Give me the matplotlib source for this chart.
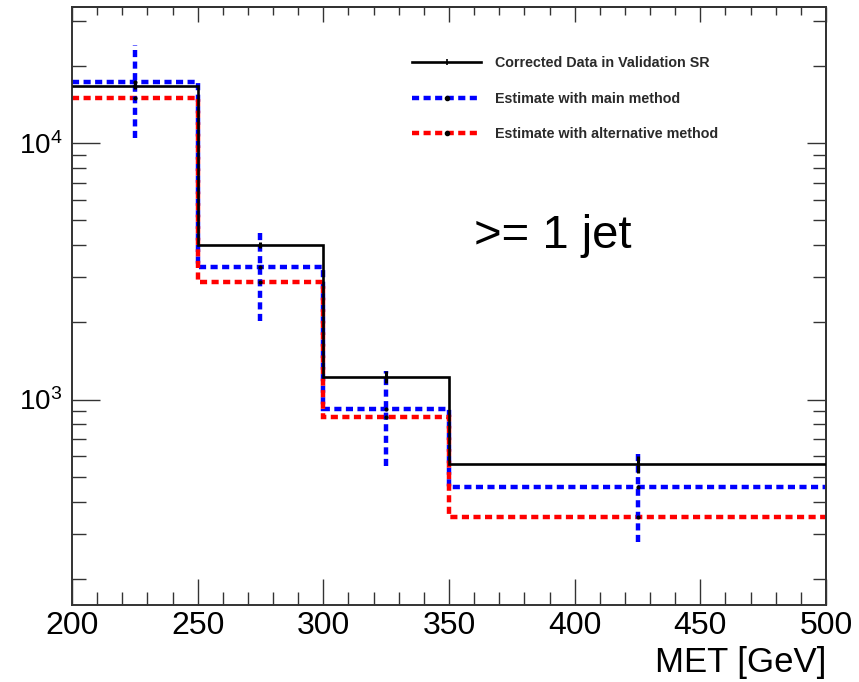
import matplotlib
matplotlib.use("Agg")
import matplotlib.pyplot as plt
from matplotlib.lines import Line2D
from matplotlib.ticker import MultipleLocator, NullFormatter, LogLocator
import numpy as np

# MET bins [GeV]
bin_edges = [200, 250, 300, 350, 500]
bin_centers = [225, 275, 325, 425]

# corrected data in validation SR
data_vals = [16680, 4013, 1230, 559]
data_err = [450, 110, 68, 42]

# estimate with main method
main_vals = [17340, 3304, 920, 458]
main_err = [6850, 1280, 370, 180]

# estimate with alternative method
alt_vals = [15020, 2884, 855, 348]

legend_labels = [
    "Corrected Data in Validation SR",
    "Estimate with main method",
    "Estimate with alternative method",
]

plt.rcParams["font.family"] = ["Liberation Sans", "DejaVu Sans"]
plt.rcParams["mathtext.default"] = "regular"

dash = (0, (1.6, 1.0))

fig = plt.figure(figsize=(8.59, 6.82), dpi=100)
ax = fig.add_axes([0.0838, 0.1129, 0.8778, 0.8768])

ax.stairs(main_vals, bin_edges, baseline=None, color="blue", lw=3.2,
          linestyle=dash, zorder=2)
ax.stairs(alt_vals, bin_edges, baseline=None, color="red", lw=3.2,
          linestyle=dash, zorder=2.2)
ax.stairs(data_vals, bin_edges, baseline=None, color="black", lw=1.9, zorder=3)

ax.vlines(bin_centers, np.subtract(main_vals, main_err), np.add(main_vals, main_err),
          colors="blue", lw=3.2, linestyles=dash, zorder=2.5)
ax.errorbar(bin_centers, data_vals, yerr=data_err, fmt="none", ecolor="black",
            elinewidth=2.2, zorder=4)
ax.plot(bin_centers, main_vals, "o", color="black", ms=2, zorder=4)
ax.plot(bin_centers, alt_vals, "o", color="black", ms=2, zorder=4)

ax.set_yscale("log")
ax.set_xlim(200, 500)
ax.set_ylim(158, 34000)

ax.xaxis.set_major_locator(MultipleLocator(50))
ax.xaxis.set_minor_locator(MultipleLocator(10))
ax.yaxis.set_major_locator(LogLocator(base=10))
ax.yaxis.set_minor_locator(LogLocator(base=10, subs=np.arange(2, 10)))
ax.yaxis.set_minor_formatter(NullFormatter())
ax.set_yticks([1e3, 1e4], labels=[r"$10^3$", r"$10^4$"])

ax.tick_params(axis="x", which="major", direction="in", length=18.5, width=1,
               labelsize=23, pad=4, color="#333333")
ax.tick_params(axis="x", which="minor", direction="in", length=9.5, width=1,
               color="#333333")
ax.tick_params(axis="y", which="major", direction="in", length=20, width=1,
               labelsize=20, pad=7, color="#333333")
ax.tick_params(axis="y", which="minor", direction="in", length=10, width=1,
               color="#333333")
for s in ax.spines.values():
    s.set_linewidth(1.4)
    s.set_color("#333333")

# shorter ticks on top and right, as in the original
top = ax.secondary_xaxis("top")
top.xaxis.set_major_locator(MultipleLocator(50))
top.xaxis.set_minor_locator(MultipleLocator(10))
top.tick_params(which="major", direction="in", length=11, width=1,
                labeltop=False, color="#333333")
top.tick_params(which="minor", direction="in", length=6, width=1, color="#333333")
top.spines["top"].set_linewidth(1.4)
top.spines["top"].set_color("#333333")

right = ax.secondary_yaxis("right")
right.yaxis.set_major_locator(LogLocator(base=10))
right.yaxis.set_minor_locator(LogLocator(base=10, subs=np.arange(2, 10)))
right.tick_params(which="major", direction="in", length=14, width=1,
                  labelright=False, color="#333333")
right.tick_params(which="minor", direction="in", length=9.5, width=1,
                  labelright=False, color="#333333")
right.spines["right"].set_linewidth(1.4)
right.spines["right"].set_color("#333333")

ax.set_xlabel("MET [GeV]", fontsize=25, loc="right", labelpad=4)

ax.text(0.533, 0.617, ">= 1 jet", transform=ax.transAxes, fontsize=34,
        ha="left", va="center")

handles = [
    Line2D([], [], color="black", lw=1.9, marker="|", ms=4, mew=1.2),
    Line2D([], [], color="blue", lw=3.2, linestyle=dash, marker="o", ms=3,
           mfc="black", mec="black"),
    Line2D([], [], color="red", lw=3.2, linestyle=dash, marker="o", ms=3,
           mfc="black", mec="black"),
]
leg = ax.legend(handles, legend_labels, loc="upper left",
                bbox_to_anchor=(0.451, 0.918), frameon=False,
                prop={"size": 10.3, "weight": "bold"},
                borderaxespad=0, borderpad=0, handlelength=4.85,
                handletextpad=0.97, labelspacing=1.5)
for t in leg.get_texts():
    t.set_color("#2a2a2a")

fig.savefig("out.png", dpi=100)
